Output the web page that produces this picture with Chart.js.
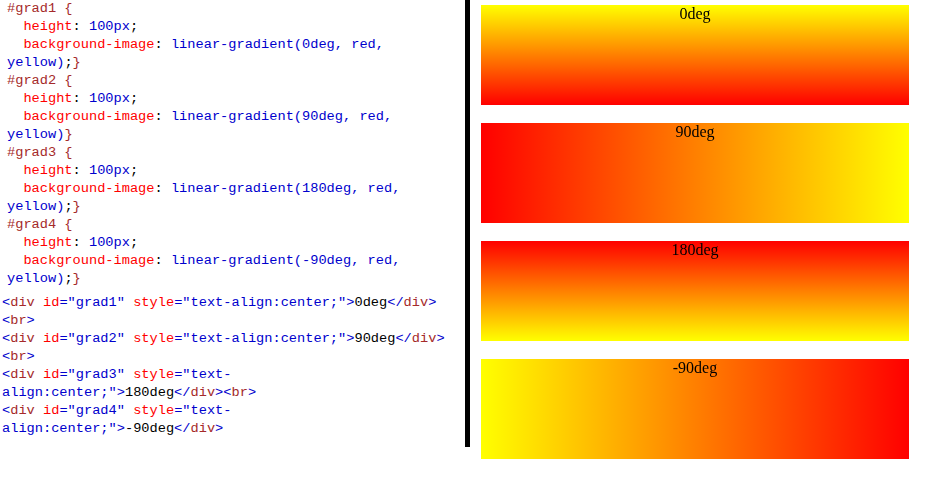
<!DOCTYPE html>
<html>
<head>
<meta charset="utf-8">
<script src="https://cdn.jsdelivr.net/npm/chart.js@4/dist/chart.umd.min.js"></script>
<style>
  html, body { margin:0; padding:0; background:#fff; width:941px; height:483px; overflow:hidden; }
  pre { position:absolute; margin:0; font-family:"Liberation Mono", "DejaVu Sans Mono", monospace; font-size:13.67px; line-height:18px; color:#000; white-space:pre; }
  .s { color:#a52a2a; }  /* selector / tag name */
  .p { color:#ff0000; }  /* property / attribute */
  .v { color:#0000cd; }  /* value */
  #divider { position:absolute; left:465px; top:0; width:5px; height:447px; background:#000; }
  #wrap { position:absolute; left:481px; top:-4px; width:428px; height:472px; }
</style>
</head>
<body>
<pre id="css" style="left:7px; top:0;"><span class="s">#grad1 {</span>
  <span class="p">height</span>: <span class="v">100px</span>;
  <span class="p">background-image</span>: <span class="v">linear-gradient(0deg, red,</span>
<span class="v">yellow)</span>;<span class="s">}</span>
<span class="s">#grad2 {</span>
  <span class="p">height</span>: <span class="v">100px</span>;
  <span class="p">background-image</span>: <span class="v">linear-gradient(90deg, red,</span>
<span class="v">yellow)</span><span class="s">}</span>
<span class="s">#grad3 {</span>
  <span class="p">height</span>: <span class="v">100px</span>;
  <span class="p">background-image</span>: <span class="v">linear-gradient(180deg, red,</span>
<span class="v">yellow)</span>;<span class="s">}</span>
<span class="s">#grad4 {</span>
  <span class="p">height</span>: <span class="v">100px</span>;
  <span class="p">background-image</span>: <span class="v">linear-gradient(-90deg, red,</span>
<span class="v">yellow)</span>;<span class="s">}</span></pre>
<pre id="html" style="left:2px; top:294px;"><span class="v">&lt;</span><span class="s">div</span> <span class="p">id</span><span class="v">="grad1"</span> <span class="p">style</span><span class="v">="text-align:center;"&gt;</span>0deg<span class="v">&lt;/</span><span class="s">div</span><span class="v">&gt;</span>
<span class="v">&lt;</span><span class="s">br</span><span class="v">&gt;</span>
<span class="v">&lt;</span><span class="s">div</span> <span class="p">id</span><span class="v">="grad2"</span> <span class="p">style</span><span class="v">="text-align:center;"&gt;</span>90deg<span class="v">&lt;/</span><span class="s">div</span><span class="v">&gt;</span>
<span class="v">&lt;</span><span class="s">br</span><span class="v">&gt;</span>
<span class="v">&lt;</span><span class="s">div</span> <span class="p">id</span><span class="v">="grad3"</span> <span class="p">style</span><span class="v">="text-</span>
<span class="v">align:center;"&gt;</span>180deg<span class="v">&lt;/</span><span class="s">div</span><span class="v">&gt;&lt;</span><span class="s">br</span><span class="v">&gt;</span>
<span class="v">&lt;</span><span class="s">div</span> <span class="p">id</span><span class="v">="grad4"</span> <span class="p">style</span><span class="v">="text-</span>
<span class="v">align:center;"&gt;</span>-90deg<span class="v">&lt;/</span><span class="s">div</span><span class="v">&gt;</span></pre>
<div id="divider"></div>
<div id="wrap"><canvas id="c" width="428" height="472"></canvas></div>
<script>
// ---- data ----
const categories = ['0deg', '90deg', '180deg', '-90deg'];
const angles = [0, 90, 180, -90];          // CSS gradient angle for each bar
const extents = [1, 1, 1, 1];              // each bar spans the full axis
const startColor = 'red';
const endColor = 'yellow';

function cssGradient(ctx, el, angleDeg) {
  const left = Math.min(el.x, el.base), right = Math.max(el.x, el.base);
  const top = el.y - el.height / 2, bottom = el.y + el.height / 2;
  const cx = (left + right) / 2, cy = (top + bottom) / 2;
  const w = right - left, h = bottom - top;
  const a = angleDeg * Math.PI / 180;
  const dx = Math.sin(a), dy = -Math.cos(a);
  const len = Math.abs(w / 2 * Math.sin(a)) + Math.abs(h / 2 * Math.cos(a));
  const g = ctx.createLinearGradient(cx - dx * len, cy - dy * len, cx + dx * len, cy + dy * len);
  g.addColorStop(0, startColor);
  g.addColorStop(1, endColor);
  return g;
}

const gradientPlugin = {
  id: 'cssGradient',
  beforeDatasetsDraw(chart) {
    const meta = chart.getDatasetMeta(0);
    meta.data.forEach((el, i) => {
      el.options = Object.assign(Object.create(Object.getPrototypeOf(el.options)), el.options,
        { backgroundColor: cssGradient(chart.ctx, el, angles[i]) });
    });
  },
  afterDatasetsDraw(chart) {
    const ctx = chart.ctx;
    const meta = chart.getDatasetMeta(0);
    ctx.save();
    ctx.fillStyle = '#000';
    ctx.font = '16px "Liberation Serif", "Times New Roman", serif';
    ctx.textAlign = 'center';
    ctx.textBaseline = 'alphabetic';
    meta.data.forEach((el, i) => {
      const cx = (el.x + el.base) / 2;
      const top = el.y - el.height / 2;
      ctx.fillText(categories[i], cx, top + 14);
    });
    ctx.restore();
  }
};

new Chart(document.getElementById('c'), {
  type: 'bar',
  data: {
    labels: categories,
    datasets: [{
      data: extents,
      backgroundColor: (c) => startColor,
      borderWidth: 0,
      barPercentage: 100 / 118,
      categoryPercentage: 1
    }]
  },
  options: {
    indexAxis: 'y',
    responsive: false,
    animation: false,
    layout: { padding: 0 },
    plugins: { legend: { display: false }, tooltip: { enabled: false } },
    scales: {
      x: { display: false, min: 0, max: 1 },
      y: { display: false }
    }
  },
  plugins: [gradientPlugin]
});
</script>
</body>
</html>
